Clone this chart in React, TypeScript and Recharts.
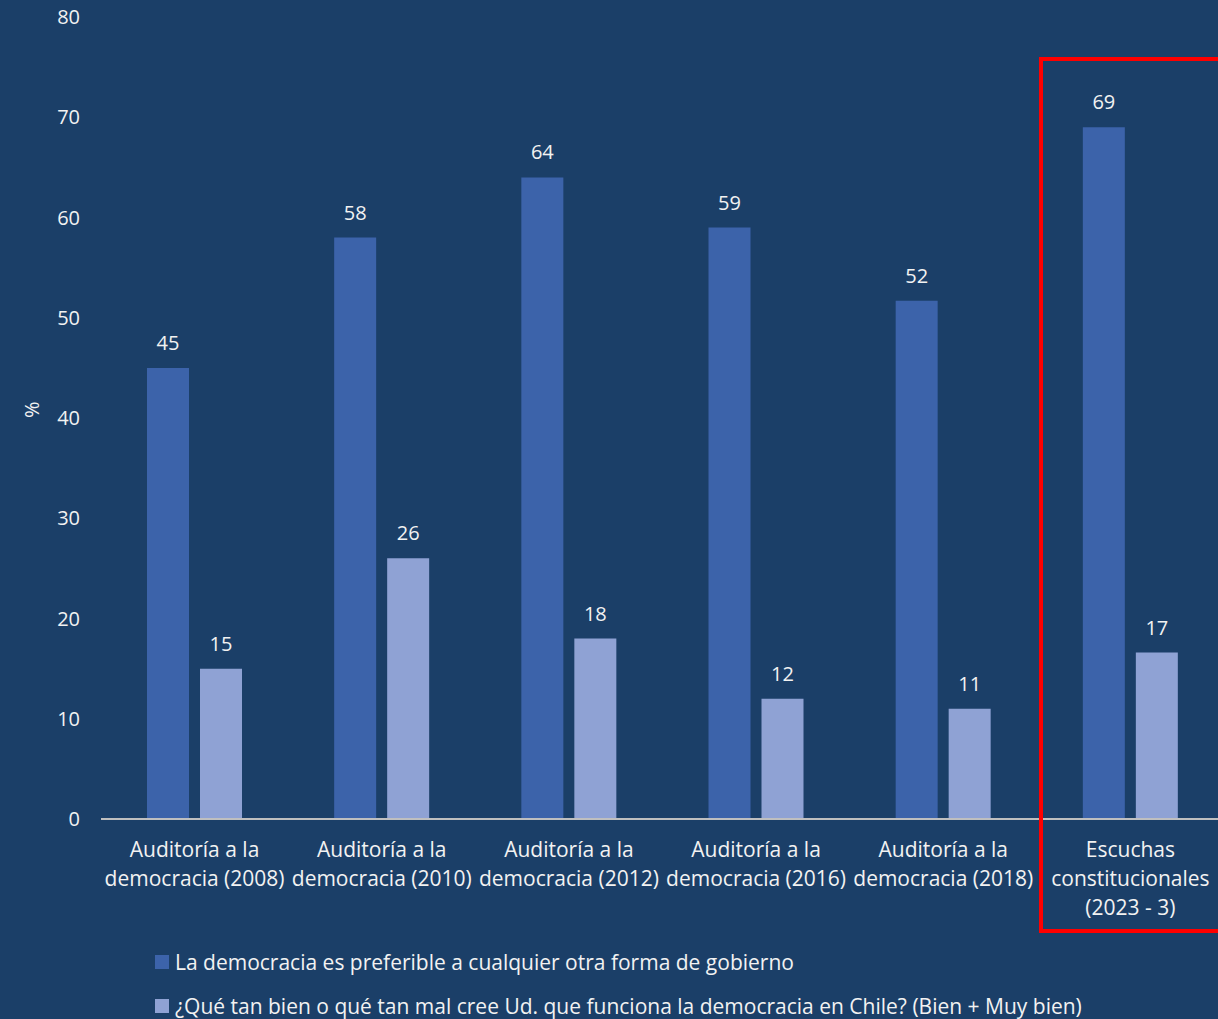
import { BarChart, Bar, XAxis, YAxis, LabelList } from 'recharts';

const categories = [
  'Auditoría a la|democracia (2008)',
  'Auditoría a la|democracia (2010)',
  'Auditoría a la|democracia (2012)',
  'Auditoría a la|democracia (2016)',
  'Auditoría a la|democracia (2018)',
  'Escuchas|constitucionales|(2023 - 3)',
];
const preferible = [45, 58, 64, 59, 51.7, 69];
const funciona = [15, 26, 18, 12, 11, 16.6];
const yTicks = [0, 10, 20, 30, 40, 50, 60, 70, 80];
const seriesNames = [
  'La democracia es preferible a cualquier otra forma de gobierno',
  '¿Qué tan bien o qué tan mal cree Ud. que funciona la democracia en Chile? (Bien + Muy bien)',
];

const BG = '#1b3f68';
const DARK = '#3c63aa';
const LIGHT = '#8fa2d4';
const TXT = '#f2f2f2';
const FONT = '"Open Sans", sans-serif';

const data = categories.map((c, i) => ({ name: c, pref: preferible[i], func: funciona[i] }));

const CatTick = (props: any) => {
  const { x, y, payload } = props;
  const lines = String(payload.value).split('|');
  return (
    <text x={x} y={y} textAnchor="middle" fill={TXT} fontSize={21} fontFamily={FONT}>
      {lines.map((l, i) => (
        <tspan key={i} x={x} dy={i === 0 ? 30 : 29}>{l}</tspan>
      ))}
    </text>
  );
};

const LegendBox = () => (
  <div style={{ position: 'absolute', left: 155, top: 940, fontFamily: FONT, fontSize: 21, color: TXT, whiteSpace: 'nowrap' }}>
    {seriesNames.map((n, i) => (
      <div key={n} style={{ display: 'flex', alignItems: 'center', height: 44 }}>
        <span style={{ width: 14, height: 14, background: i === 0 ? DARK : LIGHT, marginRight: 6, display: 'inline-block' }} />
        {n}
      </div>
    ))}
  </div>
);

export default function App() {
  const fmt = (v: any) => Math.round(Number(v));
  return (
    <div style={{ position: 'fixed', left: 0, top: 0, width: 1218, height: 1019, overflow: 'hidden', background: BG }}>
      <BarChart
        width={1224}
        height={1019}
        data={data}
        margin={{ top: 17, right: 0, left: 0, bottom: 170 }}
        barSize={42}
        barGap={11}
      >
        <XAxis
          dataKey="name"
          tick={<CatTick />}
          tickLine={false}
          axisLine={{ stroke: '#bfbfbf', strokeWidth: 2 }}
          interval={0}
          height={30}
        />
        <YAxis
          width={101}
          domain={[0, 80]}
          ticks={yTicks}
          tickLine={false}
          axisLine={false}
          tickMargin={15}
          tick={{ fill: TXT, fontSize: 20, fontFamily: FONT }}
          label={{ value: '%', angle: -90, position: 'insideLeft', offset: 32, fill: TXT, fontSize: 20, fontFamily: FONT }}
        />
        <Bar dataKey="pref" name={seriesNames[0]} fill={DARK} isAnimationActive={false}>
          <LabelList dataKey="pref" position="top" offset={18} formatter={fmt} fill={TXT} fontSize={20} fontFamily={FONT} />
        </Bar>
        <Bar dataKey="func" name={seriesNames[1]} fill={LIGHT} isAnimationActive={false}>
          <LabelList dataKey="func" position="top" offset={18} formatter={fmt} fill={TXT} fontSize={20} fontFamily={FONT} />
        </Bar>
      </BarChart>
      <LegendBox />
      <div
        style={{
          position: 'absolute',
          left: 1039,
          top: 57,
          width: 200,
          height: 876,
          border: '4px solid #ff0000',
          boxSizing: 'border-box',
          pointerEvents: 'none',
        }}
      />
    </div>
  );
}
